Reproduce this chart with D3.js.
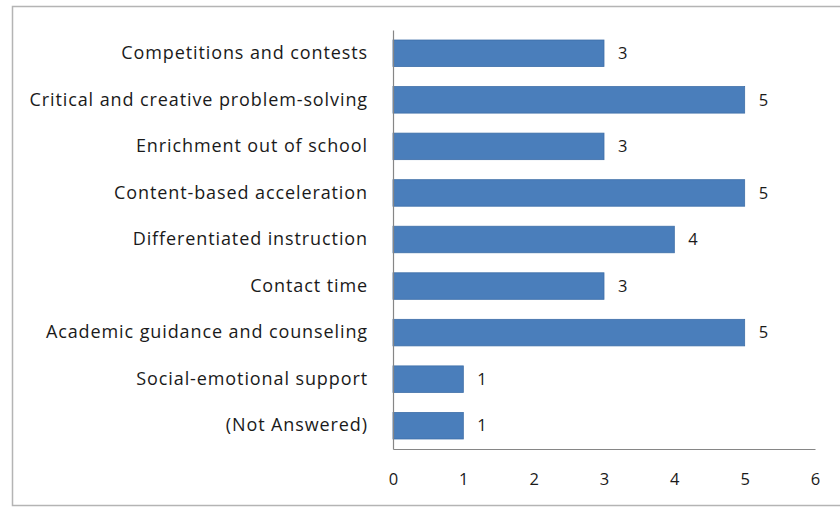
<!DOCTYPE html>
<html>
<head>
<meta charset="utf-8">
<script src="https://cdn.jsdelivr.net/npm/d3@7"></script>
<style>
  body { margin: 0; background: #fff; }
  svg { display: block; }
</style>
</head>
<body>
<svg id="drawing_region"></svg>
<script>
const categories = [
    "Competitions and contests",
    "Critical and creative problem-solving",
    "Enrichment out of school",
    "Content-based acceleration",
    "Differentiated instruction",
    "Contact time",
    "Academic guidance and counseling",
    "Social-emotional support",
    "(Not Answered)"
];
const counts = [3, 5, 3, 5, 4, 3, 5, 1, 1];
const xTicks = [0, 1, 2, 3, 4, 5, 6];

const data = categories.map((c, i) => ({ label: c, value: counts[i] }));

const width = 840, height = 508;
const margin = { top: 30, right: 25, bottom: 59, left: 393 };

const svg = d3.select('#drawing_region')
    .attr('width', width)
    .attr('height', height);

// 外枠
svg.append('rect')
    .attr('x', 12.5)
    .attr('y', 6.5)
    .attr('width', width)
    .attr('height', 499)
    .attr('fill', '#fff')
    .attr('stroke', '#b4b4b4')
    .attr('stroke-width', 1.5);

const innerW = width - margin.left - margin.right;
const innerH = height - margin.top - margin.bottom;

const chart = svg.append('g')
    .attr('transform', `translate(${margin.left}, ${margin.top})`);

const xscale = d3.scaleLinear()
    .domain([0, 6])
    .range([0, innerW]);

const yscale = d3.scaleBand()
    .domain(categories)
    .range([0, innerH])
    .paddingInner(0.43)
    .paddingOuter(0.215);

const font = '"Open Sans", "Liberation Sans", sans-serif';

chart.selectAll('rect.bar')
    .data(data)
    .enter()
    .append('rect')
    .attr('class', 'bar')
    .attr('x', 0)
    .attr('y', d => yscale(d.label))
    .attr('width', d => xscale(d.value))
    .attr('height', yscale.bandwidth())
    .attr('fill', '#4a7ebb')
    .attr('stroke', '#3f6fa8')
    .attr('stroke-width', 0.8);

// 値ラベル
chart.selectAll('text.value')
    .data(data)
    .enter()
    .append('text')
    .attr('class', 'value')
    .attr('x', d => xscale(d.value) + 14)
    .attr('y', d => yscale(d.label) + yscale.bandwidth() / 2)
    .attr('dy', '0.35em')
    .style('font-family', font)
    .style('font-size', '16.5px')
    .style('letter-spacing', '0.5px')
    .attr('fill', '#1a1a1a')
    .text(d => d.value);

// Y軸
const yaxis = d3.axisLeft(yscale).tickSize(0).tickPadding(25);
const yg = chart.append('g').call(yaxis);
yg.select('.domain').attr('stroke', '#868686').attr('stroke-width', 1.2);
yg.selectAll('text')
    .style('font-family', font)
    .style('font-size', '18px')
    .style('letter-spacing', '0.9px')
    .attr('fill', '#1a1a1a');

// X軸
const xaxis = d3.axisBottom(xscale).tickValues(xTicks).tickFormat(d3.format('d')).tickSize(0).tickPadding(24);
const xg = chart.append('g')
    .attr('transform', `translate(0, ${innerH})`)
    .call(xaxis);
xg.select('.domain').attr('stroke', '#868686').attr('stroke-width', 1.2);
xg.selectAll('text')
    .style('font-family', font)
    .style('font-size', '16.5px')
    .attr('fill', '#1a1a1a');
</script>
</body>
</html>
